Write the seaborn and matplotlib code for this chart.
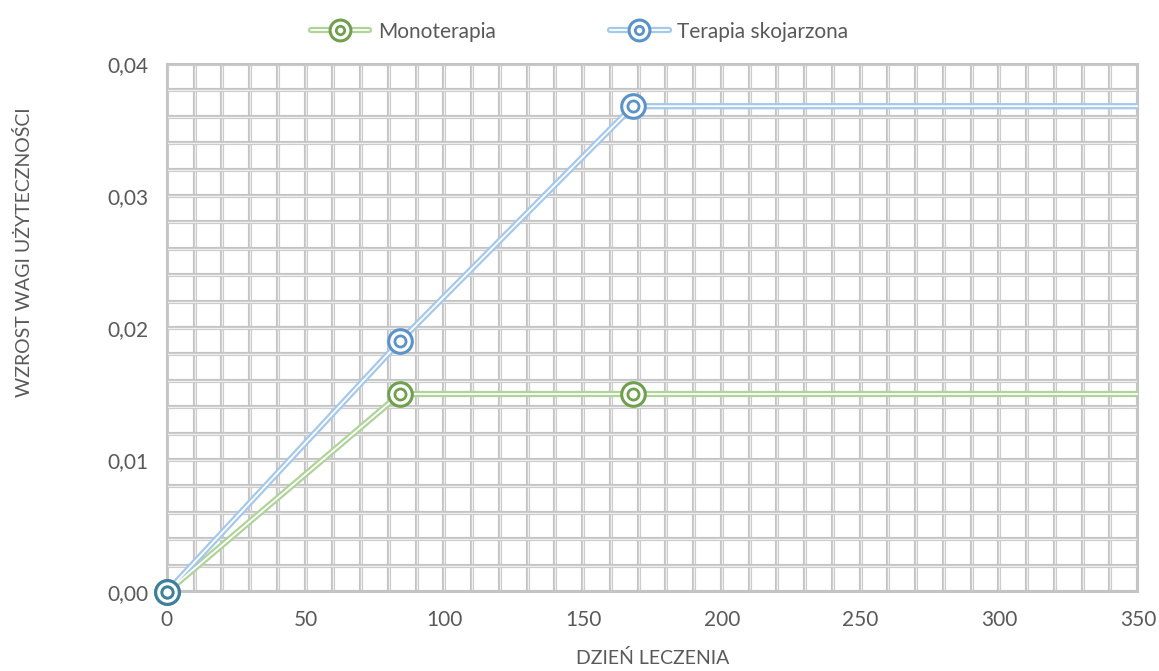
import numpy as np
import pandas as pd
import matplotlib
matplotlib.use("Agg")
from matplotlib import pyplot as plt
from matplotlib.lines import Line2D
from matplotlib.legend_handler import HandlerTuple
from matplotlib.ticker import FuncFormatter, MultipleLocator
import seaborn as sns

# data
days = [0, 84, 168, 350]
mono = [0.0, 0.015, 0.015, 0.015]
combo = [0.0, 0.019, 0.0368, 0.0368]
marker_days = [0, 84, 168]
series_names = ["Monoterapia", "Terapia skojarzona"]

green_dark = "#70a04e"
green_light = "#b0d39a"
blue_dark = "#5b93c9"
blue_light = "#a6c8ea"
overlap_col = "#3e7f99"

df = pd.DataFrame({
    "day": days * 2,
    "value": mono + combo,
    "series": [series_names[0]] * len(days) + [series_names[1]] * len(days),
})

sns.set_style("white")
plt.rcParams["font.family"] = ["Lato", "DejaVu Sans"]

fig = plt.figure(figsize=(11.59, 6.71), dpi=100)
ax = fig.add_axes([0.144, 0.1177, 0.838, 0.787])

# excel-like double grid
for x in np.arange(0, 351, 10):
    ax.axvline(x, color="#c4c4c4", lw=3.0, zorder=0)
    ax.axvline(x, color="#efefef", lw=1.0, zorder=0)
for y in np.arange(0, 0.0401, 0.002):
    ax.axhline(y, color="#c4c4c4", lw=3.0, zorder=0)
    ax.axhline(y, color="#efefef", lw=1.0, zorder=0)

palette_outer = {series_names[0]: green_light, series_names[1]: blue_light}
palette_inner = {series_names[0]: "white", series_names[1]: "white"}

# double lines: wide colored stroke with thin white stroke on top
sns.lineplot(data=df, x="day", y="value", hue="series", palette=palette_outer,
             lw=4.5, legend=False, ax=ax, zorder=3)
sns.lineplot(data=df, x="day", y="value", hue="series", palette=palette_inner,
             lw=1.3, legend=False, ax=ax, zorder=4)

mk = df[df["day"].isin(marker_days)]
for name, col in [(series_names[0], green_dark), (series_names[1], blue_dark)]:
    sub = mk[mk["series"] == name]
    cols = [overlap_col if d == 0 else col for d in sub["day"]]
    for (d, v), c in zip(zip(sub["day"], sub["value"]), cols):
        ax.plot(d, v, ls="none", marker="o", ms=17,
                mfc="white", mec=c, mew=2.2, zorder=5, clip_on=False)
        ax.plot(d, v, ls="none", marker="o", ms=8,
                mfc="white", mec=c, mew=2.0, zorder=6, clip_on=False)

ax.set_xlim(0, 350)
ax.set_ylim(0, 0.04)
ax.xaxis.set_major_locator(MultipleLocator(50))
ax.yaxis.set_major_locator(MultipleLocator(0.01))
ax.yaxis.set_major_formatter(FuncFormatter(lambda v, p: f"{v:.2f}".replace(".", ",")))
ax.tick_params(labelsize=15, colors="#595959", length=0, pad=13)
for s in ax.spines.values():
    s.set_color("#c4c4c4")
    s.set_linewidth(1.5)

ax.set_xlabel("DZIEŃ LECZENIA", fontsize=14, color="#595959")
ax.set_ylabel("WZROST WAGI UŻYTECZNOŚCI", fontsize=14, color="#595959")
ax.xaxis.set_label_coords(0.5, -0.108)
ax.yaxis.set_label_coords(-0.138, 0.644)

handles = []
for col_l, col_d in [(green_light, green_dark), (blue_light, blue_dark)]:
    h1 = Line2D([], [], color=col_l, lw=4.5)
    h2 = Line2D([], [], color="white", lw=1.3)
    h3 = Line2D([], [], ls="none", marker="o", ms=15, mfc="white", mec=col_d, mew=2.2)
    h4 = Line2D([], [], ls="none", marker="o", ms=6, mfc="white", mec=col_d, mew=2.0)
    handles.append((h1, h2, h3, h4))
fig.legend(handles, series_names, loc="center", bbox_to_anchor=(0.5, 0.953),
           ncol=2, frameon=False, fontsize=15, labelcolor="#595959",
           handler_map={tuple: HandlerTuple(ndivide=1)},
           handlelength=2.8, handletextpad=0.4, columnspacing=5.5)

fig.savefig("out.png", dpi=100)
